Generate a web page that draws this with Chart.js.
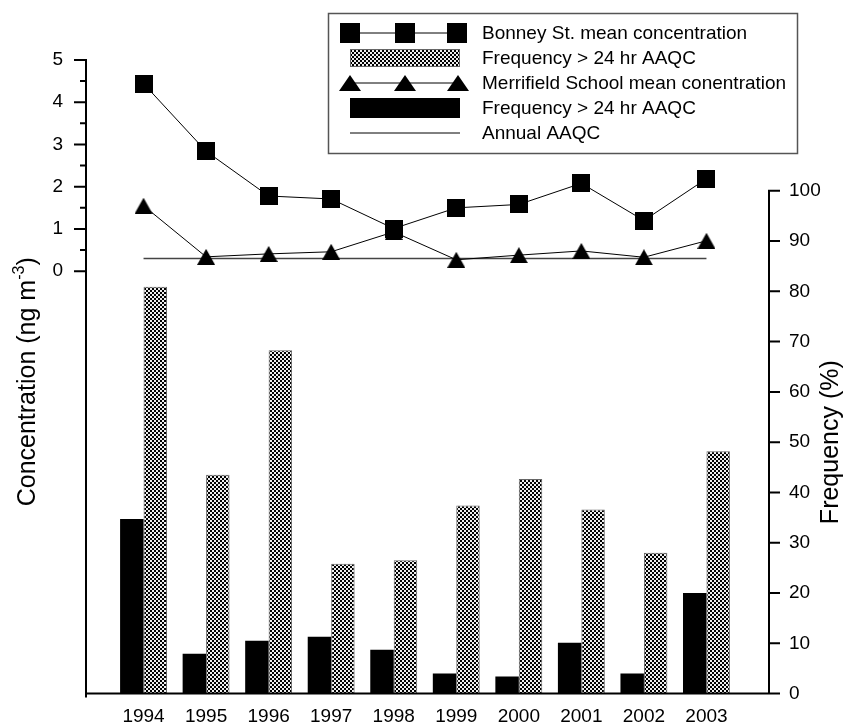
<!DOCTYPE html>
<html>
<head>
<meta charset="utf-8">
<script src="https://cdn.jsdelivr.net/npm/chart.js@4.4.1/dist/chart.umd.min.js"></script>
<style>
  html, body { margin: 0; padding: 0; background: #fff; }
  #wrap { width: 847px; height: 728px; }
</style>
</head>
<body>
<div id="wrap"><canvas id="chart" width="847" height="728"></canvas></div>
<script>
// data
const years = [1994, 1995, 1996, 1997, 1998, 1999, 2000, 2001, 2002, 2003];
const bonneyConc = [4.44, 2.84, 1.78, 1.71, 1.01, 1.50, 1.58, 2.08, 1.20, 2.19];
const merrifieldConc = [1.55, 0.34, 0.41, 0.46, 0.93, 0.27, 0.38, 0.48, 0.33, 0.72];
const annualAAQC = [0.3, 0.3, 0.3, 0.3, 0.3, 0.3, 0.3, 0.3, 0.3, 0.3];
const bonneyFreq = [80.9, 43.5, 68.3, 25.8, 26.5, 37.4, 42.7, 36.6, 28.0, 48.2];
const merrifieldFreq = [34.7, 7.9, 10.5, 11.3, 8.7, 4.0, 3.4, 10.1, 4.0, 20.0];

const concTicks = [0, 1, 2, 3, 4, 5];
const concMinorStep = 0.5;
const freqTicks = [0, 10, 20, 30, 40, 50, 60, 70, 80, 90, 100];

const legendLabels = [
  "Bonney St. mean concentration",
  "Frequency > 24 hr AAQC",
  "Merrifield School mean conentration",
  "Frequency > 24 hr AAQC",
  "Annual AAQC",
];

const FONT = "Arial, 'Liberation Sans', sans-serif";
Chart.defaults.font.family = FONT;
Chart.defaults.color = "#000";

const canvas = document.getElementById("chart");
const mainCtx = canvas.getContext("2d");

// marker images
const makeSquare = (size) => {
  const c = document.createElement("canvas");
  c.width = size;
  c.height = size;
  const g = c.getContext("2d");
  g.fillStyle = "#000";
  g.fillRect(0, 0, size, size);
  return c;
};
const makeTriangle = (w, h) => {
  const c = document.createElement("canvas");
  c.width = w;
  c.height = h;
  const g = c.getContext("2d");
  g.fillStyle = "#000";
  g.beginPath();
  g.moveTo(w / 2, 0);
  g.lineTo(w, h);
  g.lineTo(0, h);
  g.closePath();
  g.fill();
  return c;
};
const squareImg = makeSquare(18);
const triangleImg = makeTriangle(18, 16);
const legendSquare = makeSquare(20);
const legendTriangle = makeTriangle(22, 16);

// cross hatch fill
const tile = document.createElement("canvas");
tile.width = 4;
tile.height = 4;
const tg = tile.getContext("2d");
tg.fillStyle = "#eeeeee";
tg.fillRect(0, 0, 4, 4);
tg.fillStyle = "#000";
tg.fillRect(0, 0, 2, 2);
tg.fillRect(2, 2, 2, 2);
const hatch = mainCtx.createPattern(tile, "repeat");

const toPoints = (vals) => years.map((x, i) => ({ x: x, y: vals[i] }));

const axesPlugin = {
  id: "axesAndLegend",
  afterDatasetsDraw(chart) {
    const { ctx, chartArea } = chart;
    const yL = chart.scales.y;
    const yR = chart.scales.y1;
    ctx.save();

    // axis lines and ticks
    ctx.strokeStyle = "#000";
    ctx.lineWidth = 2;
    ctx.beginPath();
    ctx.moveTo(chartArea.left - 1, chartArea.bottom);
    ctx.lineTo(chartArea.right + 1, chartArea.bottom);
    ctx.moveTo(chartArea.left, chartArea.top - 1);
    ctx.lineTo(chartArea.left, chartArea.bottom + 4);
    for (let v = concTicks[0]; v <= concTicks[concTicks.length - 1]; v += concMinorStep) {
      const py = yL.getPixelForValue(v);
      const len = Number.isInteger(v) ? 12 : 6;
      ctx.moveTo(chartArea.left, py);
      ctx.lineTo(chartArea.left - len, py);
    }
    ctx.moveTo(chartArea.right, yR.getPixelForValue(100) - 1);
    ctx.lineTo(chartArea.right, chartArea.bottom + 1);
    freqTicks.forEach((v) => {
      const py = yR.getPixelForValue(v);
      ctx.moveTo(chartArea.right, py);
      ctx.lineTo(chartArea.right + 11, py);
    });
    ctx.stroke();

    // axis titles
    ctx.fillStyle = "#000";
    ctx.textBaseline = "middle";
    ctx.textAlign = "left";
    ctx.save();
    ctx.translate(28, (chartArea.top + chartArea.bottom) / 2 + 5);
    ctx.rotate(-Math.PI / 2);
    const bigFont = `25px ${FONT}`;
    const smallFont = `16px ${FONT}`;
    ctx.font = bigFont;
    const t1 = "Concentration (ng m";
    const t3 = ")";
    const w1 = ctx.measureText(t1).width;
    const w3 = ctx.measureText(t3).width;
    ctx.font = smallFont;
    const t2 = "-3";
    const w2 = ctx.measureText(t2).width;
    let x = -(w1 + w2 + w3) / 2;
    ctx.font = bigFont;
    ctx.fillText(t1, x, 0);
    x += w1;
    ctx.font = smallFont;
    ctx.fillText(t2, x, -8);
    x += w2;
    ctx.font = bigFont;
    ctx.fillText(t3, x, 0);
    ctx.restore();

    ctx.save();
    ctx.translate(831, (yR.getPixelForValue(0) + yR.getPixelForValue(100)) / 2);
    ctx.rotate(-Math.PI / 2);
    ctx.font = bigFont;
    ctx.textAlign = "center";
    ctx.fillText("Frequency (%)", 0, 0);
    ctx.restore();

    // legend
    const lx = 328, ly = 13, lw = 469, lh = 140;
    ctx.fillStyle = "#fff";
    ctx.fillRect(lx, ly, lw, lh);
    ctx.strokeStyle = "#555";
    ctx.lineWidth = 1.5;
    ctx.strokeRect(lx + 0.5, ly + 0.5, lw, lh);

    const symL = 350, symR = 460, textX = 482;
    const rowY = (i) => ly + 20 + i * 25;
    ctx.lineWidth = 1;
    ctx.strokeStyle = "#000";

    // row 0: squares
    let ry = rowY(0);
    ctx.beginPath();
    ctx.moveTo(symL, ry);
    ctx.lineTo(symR - 3, ry);
    ctx.stroke();
    [symL, (symL + symR) / 2, symR - 3].forEach((cx) => {
      ctx.drawImage(legendSquare, cx - 10, ry - 10);
    });
    // row 1: hatched box
    ry = rowY(1);
    ctx.fillStyle = hatch;
    ctx.fillRect(symL, ry - 9, symR - symL, 18);
    ctx.strokeStyle = "#666";
    ctx.strokeRect(symL + 0.5, ry - 9 + 0.5, symR - symL - 1, 17);
    // row 2: triangles
    ry = rowY(2);
    ctx.strokeStyle = "#000";
    ctx.beginPath();
    ctx.moveTo(symL, ry);
    ctx.lineTo(symR, ry);
    ctx.stroke();
    [symL, (symL + symR) / 2, symR - 2].forEach((cx) => {
      ctx.drawImage(legendTriangle, cx - 11, ry - 8);
    });
    // row 3: black box
    ry = rowY(3);
    ctx.fillStyle = "#000";
    ctx.fillRect(symL, ry - 10, symR - symL, 20);
    // row 4: line
    ry = rowY(4);
    ctx.beginPath();
    ctx.moveTo(symL, ry);
    ctx.lineTo(symR, ry);
    ctx.stroke();

    ctx.font = `19px ${FONT}`;
    ctx.fillStyle = "#000";
    ctx.textAlign = "left";
    legendLabels.forEach((lab, i) => {
      ctx.fillText(lab, textX, rowY(i) + 1);
    });

    ctx.restore();
  },
};

const tickFont = { size: 19, family: FONT };

new Chart(canvas, {
  type: "bar",
  data: {
    datasets: [
      {
        type: "line",
        label: legendLabels[0],
        data: toPoints(bonneyConc),
        yAxisID: "y",
        borderColor: "#000",
        borderWidth: 1,
        pointStyle: squareImg,
        pointRadius: 9,
        tension: 0,
        order: 0,
      },
      {
        type: "line",
        label: legendLabels[2],
        data: toPoints(merrifieldConc),
        yAxisID: "y",
        borderColor: "#000",
        borderWidth: 1,
        pointStyle: triangleImg,
        pointRadius: 9,
        tension: 0,
        order: 1,
      },
      {
        type: "line",
        label: legendLabels[4],
        data: toPoints(annualAAQC),
        yAxisID: "y",
        borderColor: "#444",
        borderWidth: 1.5,
        pointRadius: 0,
        tension: 0,
        order: 2,
      },
      {
        type: "bar",
        label: legendLabels[3],
        data: toPoints(merrifieldFreq),
        yAxisID: "y1",
        backgroundColor: "#000",
        borderColor: "#000",
        borderWidth: 0,
        categoryPercentage: 0.75,
        barPercentage: 1.0,
        order: 3,
      },
      {
        type: "bar",
        label: legendLabels[1],
        data: toPoints(bonneyFreq),
        yAxisID: "y1",
        backgroundColor: hatch,
        borderColor: "#666",
        borderWidth: 1,
        categoryPercentage: 0.75,
        barPercentage: 1.0,
        order: 3,
      },
    ],
  },
  options: {
    responsive: false,
    devicePixelRatio: 1,
    animation: false,
    layout: { padding: { top: 60, left: 0, right: 0, bottom: 0 } },
    plugins: {
      legend: { display: false },
      tooltip: { enabled: false },
    },
    scales: {
      x: {
        type: "linear",
        offset: false,
        min: 1993.08,
        max: 2004.0,
        grid: { display: false, drawTicks: false },
        border: { display: false },
        afterBuildTicks: (s) => {
          s.ticks = years.map((v) => ({ value: v }));
        },
        ticks: {
          font: tickFont,
          color: "#000",
          padding: 12,
          maxRotation: 0,
          autoSkip: false,
          callback: (v) => String(v),
        },
        afterFit: (s) => {
          s.height = 32;
        },
      },
      y: {
        type: "linear",
        position: "left",
        min: -10,
        max: 5,
        grid: { display: false, drawTicks: false },
        border: { display: false },
        afterBuildTicks: (s) => {
          s.ticks = concTicks.map((v) => ({ value: v }));
        },
        ticks: { font: tickFont, color: "#000", padding: 23 },
        afterFit: (s) => {
          s.width = 86;
        },
      },
      y1: {
        type: "linear",
        position: "right",
        min: 0,
        max: 126,
        grid: { display: false, drawTicks: false },
        border: { display: false },
        afterBuildTicks: (s) => {
          s.ticks = freqTicks.map((v) => ({ value: v }));
        },
        ticks: { font: tickFont, color: "#000", padding: 20 },
        afterFit: (s) => {
          s.width = 78;
        },
      },
    },
  },
  plugins: [axesPlugin],
});
</script>
</body>
</html>
